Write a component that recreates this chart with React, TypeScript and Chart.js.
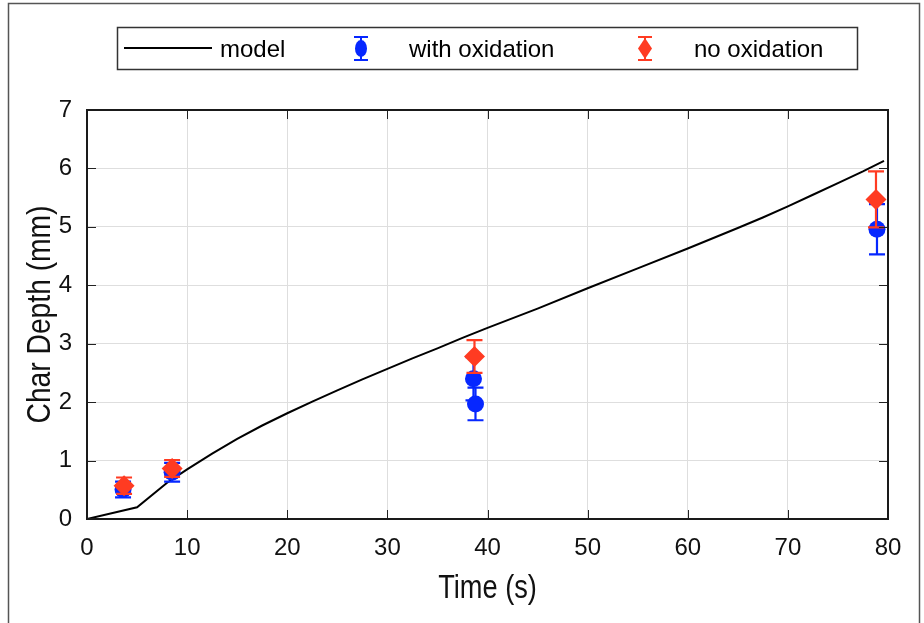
import React, { useEffect, useRef } from "react";
import { Chart, registerables } from "chart.js";

Chart.register(...registerables);

// ---- data ----
const modelTime = [0, 5, 8, 10, 12.5, 15, 17.5, 20, 22.5, 25, 27.5, 30, 32.5, 35, 37.5, 40, 45, 50, 55, 60, 65, 67.5, 70, 72.5, 75, 77.5, 79.6];
const modelDepth = [0, 0.2, 0.62, 0.85, 1.12, 1.37, 1.6, 1.81, 2.01, 2.2, 2.39, 2.57, 2.75, 2.92, 3.1, 3.27, 3.6, 3.95, 4.29, 4.63, 4.98, 5.16, 5.35, 5.55, 5.75, 5.95, 6.13];

const oxTime = [3.6, 8.5, 38.6, 38.8, 78.9];
const oxDepth = [0.505, 0.8, 2.4, 1.97, 4.96];
const oxErr = [0.135, 0.16, 0.37, 0.28, 0.43];

const noOxTime = [3.7, 8.5, 38.7, 78.8];
const noOxDepth = [0.57, 0.865, 2.78, 5.47];
const noOxErr = [0.14, 0.145, 0.28, 0.48];

const xTickValues = [0, 10, 20, 30, 40, 50, 60, 70, 80];
const yTickValues = [0, 1, 2, 3, 4, 5, 6, 7];

const legendLabels = ["model", "with oxidation", "no oxidation"];
const xTitle = "Time (s)";
const yTitle = "Char Depth (mm)";

const BLUE = "#0627ff";
const RED = "#ff3b22";
const SANS = "'Liberation Sans', Arial, sans-serif";

const errorBarPlugin = {
  id: "errorBars",
  beforeDatasetDraw(chart: any, args: any) {
    const ds = chart.data.datasets[args.index];
    if (!ds.errors) return;
    const ctx = chart.ctx;
    const ys = chart.scales.y;
    ctx.save();
    ctx.strokeStyle = ds.errorColor;
    ctx.lineWidth = 2.2;
    args.meta.data.forEach((pt: any, i: number) => {
      const d = ds.data[i];
      const x = pt.x;
      const yt = ys.getPixelForValue(d.y + ds.errors[i]);
      const yb = ys.getPixelForValue(d.y - ds.errors[i]);
      const cw = 8;
      ctx.beginPath();
      ctx.moveTo(x, yt);
      ctx.lineTo(x, yb);
      ctx.moveTo(x - cw, yt);
      ctx.lineTo(x + cw, yt);
      ctx.moveTo(x - cw, yb);
      ctx.lineTo(x + cw, yb);
      ctx.stroke();
    });
    ctx.restore();
  },
};

const framePlugin = {
  id: "frame",
  beforeDraw(chart: any) {
    const ctx = chart.ctx;
    ctx.save();
    ctx.fillStyle = "#ffffff";
    ctx.fillRect(0, 0, chart.width, chart.height);
    ctx.strokeStyle = "#555555";
    ctx.lineWidth = 1.5;
    ctx.strokeRect(8.5, 3.5, 911, 700);
    ctx.restore();
  },
  afterDraw(chart: any) {
    const ctx = chart.ctx;
    const { left, right, top, bottom } = chart.chartArea;
    const xs = chart.scales.x;
    const ys = chart.scales.y;
    ctx.save();
    // inward ticks
    ctx.strokeStyle = "#222222";
    ctx.lineWidth = 1;
    const tl = 9;
    ctx.beginPath();
    xTickValues.forEach((v) => {
      const px = Math.round(xs.getPixelForValue(v)) + 0.5;
      ctx.moveTo(px, bottom);
      ctx.lineTo(px, bottom - tl);
      ctx.moveTo(px, top);
      ctx.lineTo(px, top + tl);
    });
    yTickValues.forEach((v) => {
      const py = Math.round(ys.getPixelForValue(v)) + 0.5;
      ctx.moveTo(left, py);
      ctx.lineTo(left + tl, py);
      ctx.moveTo(right, py);
      ctx.lineTo(right - tl, py);
    });
    ctx.stroke();
    // box
    ctx.strokeStyle = "#1a1a1a";
    ctx.lineWidth = 2;
    ctx.strokeRect(left, top, right - left, bottom - top);

    // axis titles (condensed, as in the reference)
    ctx.fillStyle = "#111111";
    ctx.font = `34px ${SANS}`;
    ctx.textAlign = "center";
    ctx.textBaseline = "alphabetic";
    ctx.save();
    ctx.translate((left + right) / 2, 598);
    ctx.scale(0.8, 1);
    ctx.fillText(xTitle, 0, 0);
    ctx.restore();
    ctx.save();
    ctx.translate(50, (top + bottom) / 2);
    ctx.rotate(-Math.PI / 2);
    ctx.scale(0.83, 1);
    ctx.fillText(yTitle, 0, 0);
    ctx.restore();

    // legend
    const ly = 48;
    ctx.strokeStyle = "#333333";
    ctx.lineWidth = 1.5;
    ctx.fillStyle = "#ffffff";
    ctx.fillRect(117.5, 27.5, 740, 42);
    ctx.strokeRect(117.5, 27.5, 740, 42);
    ctx.strokeStyle = "#000000";
    ctx.lineWidth = 2;
    ctx.beginPath();
    ctx.moveTo(124, ly);
    ctx.lineTo(212, ly);
    ctx.stroke();

    const drawErr = (cx: number, color: string) => {
      ctx.strokeStyle = color;
      ctx.lineWidth = 2;
      ctx.beginPath();
      ctx.moveTo(cx, 37);
      ctx.lineTo(cx, 60);
      ctx.moveTo(cx - 7, 37);
      ctx.lineTo(cx + 7, 37);
      ctx.moveTo(cx - 7, 60);
      ctx.lineTo(cx + 7, 60);
      ctx.stroke();
    };
    drawErr(361, BLUE);
    ctx.fillStyle = BLUE;
    ctx.beginPath();
    ctx.ellipse(361, ly + 0.5, 6, 8.5, 0, 0, Math.PI * 2);
    ctx.fill();

    drawErr(645, RED);
    ctx.fillStyle = RED;
    ctx.beginPath();
    ctx.moveTo(645, ly - 10);
    ctx.lineTo(652, ly + 0.5);
    ctx.lineTo(645, ly + 11);
    ctx.lineTo(638, ly + 0.5);
    ctx.closePath();
    ctx.fill();

    ctx.fillStyle = "#000000";
    ctx.font = `24px ${SANS}`;
    ctx.textBaseline = "alphabetic";
    ctx.textAlign = "left";
    ctx.fillText(legendLabels[0], 220, 57);
    ctx.fillText(legendLabels[1], 409, 57);
    ctx.fillText(legendLabels[2], 694, 57);
    ctx.restore();
  },
};

export default function App() {
  const canvasRef = useRef<HTMLCanvasElement | null>(null);

  useEffect(() => {
    document.body.style.margin = "0";
    const canvas = canvasRef.current;
    if (!canvas) return;
    const chart = new Chart(canvas, {
      type: "scatter",
      data: {
        datasets: [
          {
            label: legendLabels[2],
            data: noOxTime.map((t, i) => ({ x: t, y: noOxDepth[i] })),
            errors: noOxErr,
            errorColor: RED,
            pointStyle: "rectRot",
            pointRadius: 10.5,
            backgroundColor: RED,
            borderColor: RED,
            borderWidth: 0,
            order: 1,
          } as any,
          {
            label: legendLabels[1],
            data: oxTime.map((t, i) => ({ x: t, y: oxDepth[i] })),
            errors: oxErr,
            errorColor: BLUE,
            pointStyle: "circle",
            pointRadius: 8.5,
            backgroundColor: BLUE,
            borderColor: BLUE,
            borderWidth: 0,
            order: 2,
          } as any,
          {
            type: "line",
            label: legendLabels[0],
            data: modelTime.map((t, i) => ({ x: t, y: modelDepth[i] })),
            borderColor: "#000000",
            borderWidth: 2,
            pointRadius: 0,
            fill: false,
            tension: 0,
            showLine: true,
            order: 3,
          } as any,
        ],
      },
      options: {
        animation: false,
        responsive: false,
        devicePixelRatio: 1,
        layout: { padding: { top: 110, right: 36, left: 0, bottom: 0 } },
        plugins: {
          legend: { display: false },
          tooltip: { enabled: false },
        },
        scales: {
          x: {
            type: "linear",
            min: 0,
            max: 80,
            afterBuildTicks: (s: any) => {
              s.ticks = xTickValues.map((v) => ({ value: v }));
            },
            afterFit: (s: any) => {
              s.height = 104;
            },
            grid: { color: "#dedede", lineWidth: 1, drawTicks: false },
            border: { display: false },
            ticks: {
              padding: 15,
              color: "#111111",
              maxRotation: 0,
              autoSkip: false,
              font: { family: SANS, size: 24 },
            },
            title: { display: false },
          },
          y: {
            type: "linear",
            min: 0,
            max: 7,
            afterBuildTicks: (s: any) => {
              s.ticks = yTickValues.map((v) => ({ value: v }));
            },
            afterFit: (s: any) => {
              s.width = 87;
            },
            grid: { color: "#dedede", lineWidth: 1, drawTicks: false },
            border: { display: false },
            ticks: {
              padding: 15,
              color: "#111111",
              autoSkip: false,
              font: { family: SANS, size: 24 },
            },
            title: { display: false },
          },
        },
      } as any,
      plugins: [errorBarPlugin, framePlugin],
    });
    return () => chart.destroy();
  }, []);

  return (
    <div style={{ width: 924, height: 623, position: "relative" }}>
      <canvas ref={canvasRef} width={924} height={623} style={{ display: "block" }} />
    </div>
  );
}
